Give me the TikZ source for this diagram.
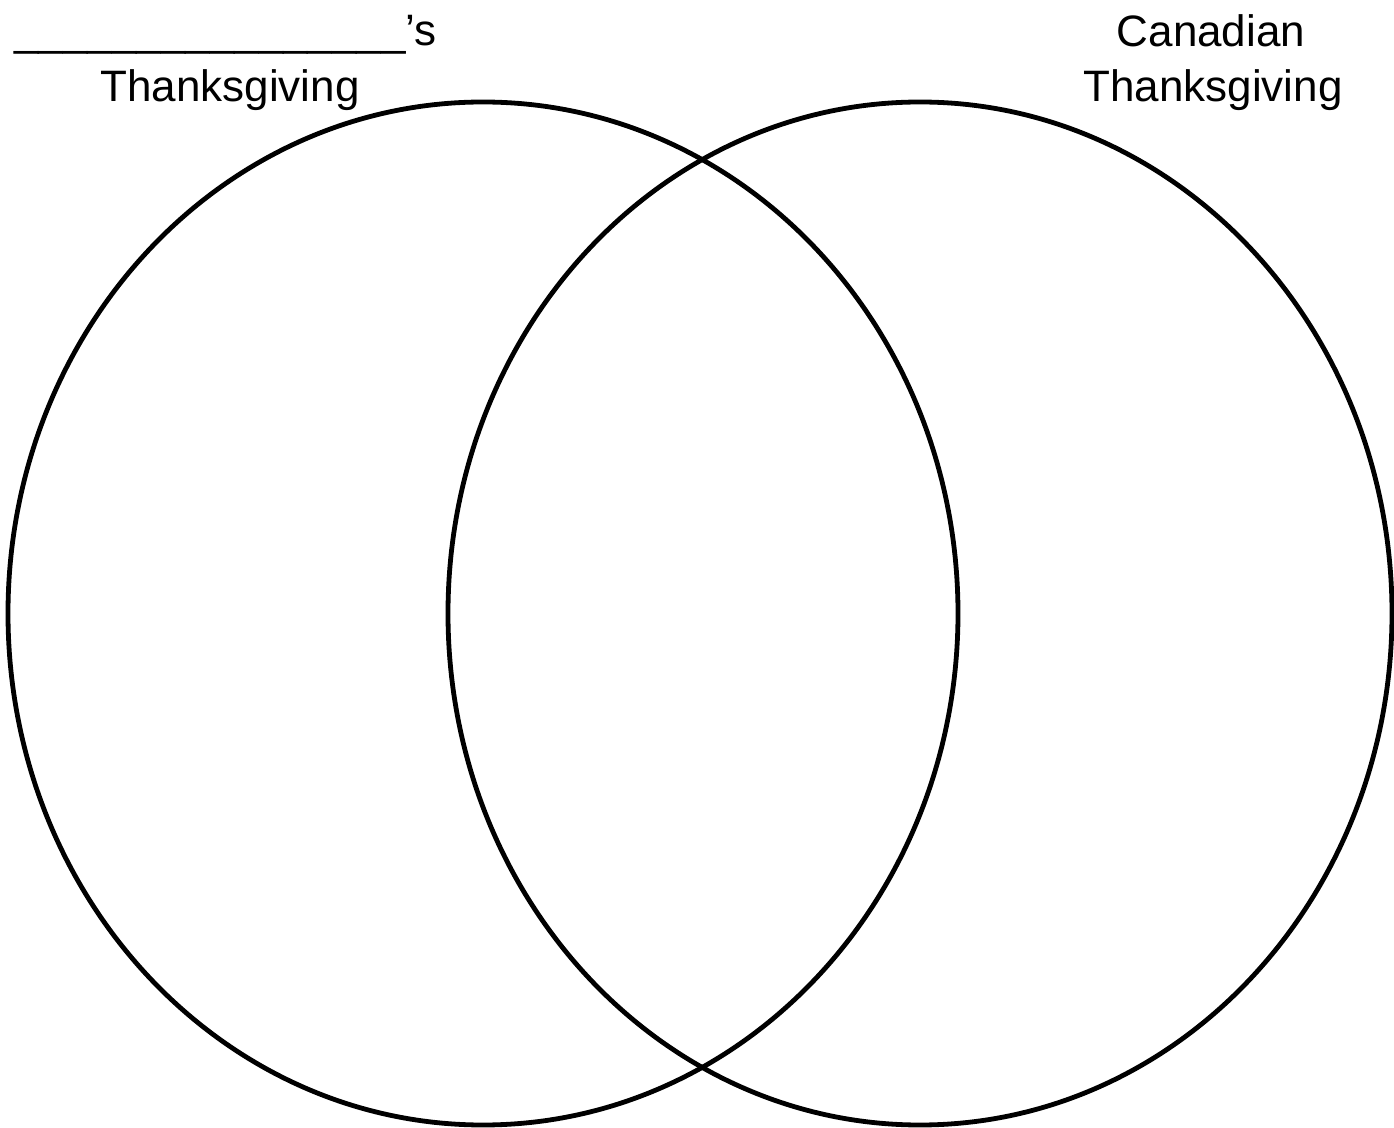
\documentclass[tikz,border=0pt]{standalone}
\usepackage{fontspec}
\setmainfont{Liberation Sans}
\begin{document}
\begin{tikzpicture}[x=0.5pt,y=-0.5pt,
  ring/.style={draw=black,line width=2.4pt},
  lbl/.style={font=\fontsize{22pt}{26pt}\selectfont,inner sep=0pt,anchor=base}]
\useasboundingbox (0,0) rectangle (1394,1128);
\draw[ring] (483,613.5) ellipse [x radius=475, y radius=511.5];
\draw[ring] (920,613.5) ellipse [x radius=472, y radius=511.5];
\node[lbl,anchor=base west] (blank) at (14,46) {\_\_\_\_\_\_\_\_\_\_\_\_\_\_\_\_'s};
\node[lbl] (lt) at (230,102) {Thanksgiving};
\node[lbl] (rc) at (1211,47) {Canadian};
\node[lbl] (rt) at (1213,102) {Thanksgiving};
\end{tikzpicture}
\end{document}
